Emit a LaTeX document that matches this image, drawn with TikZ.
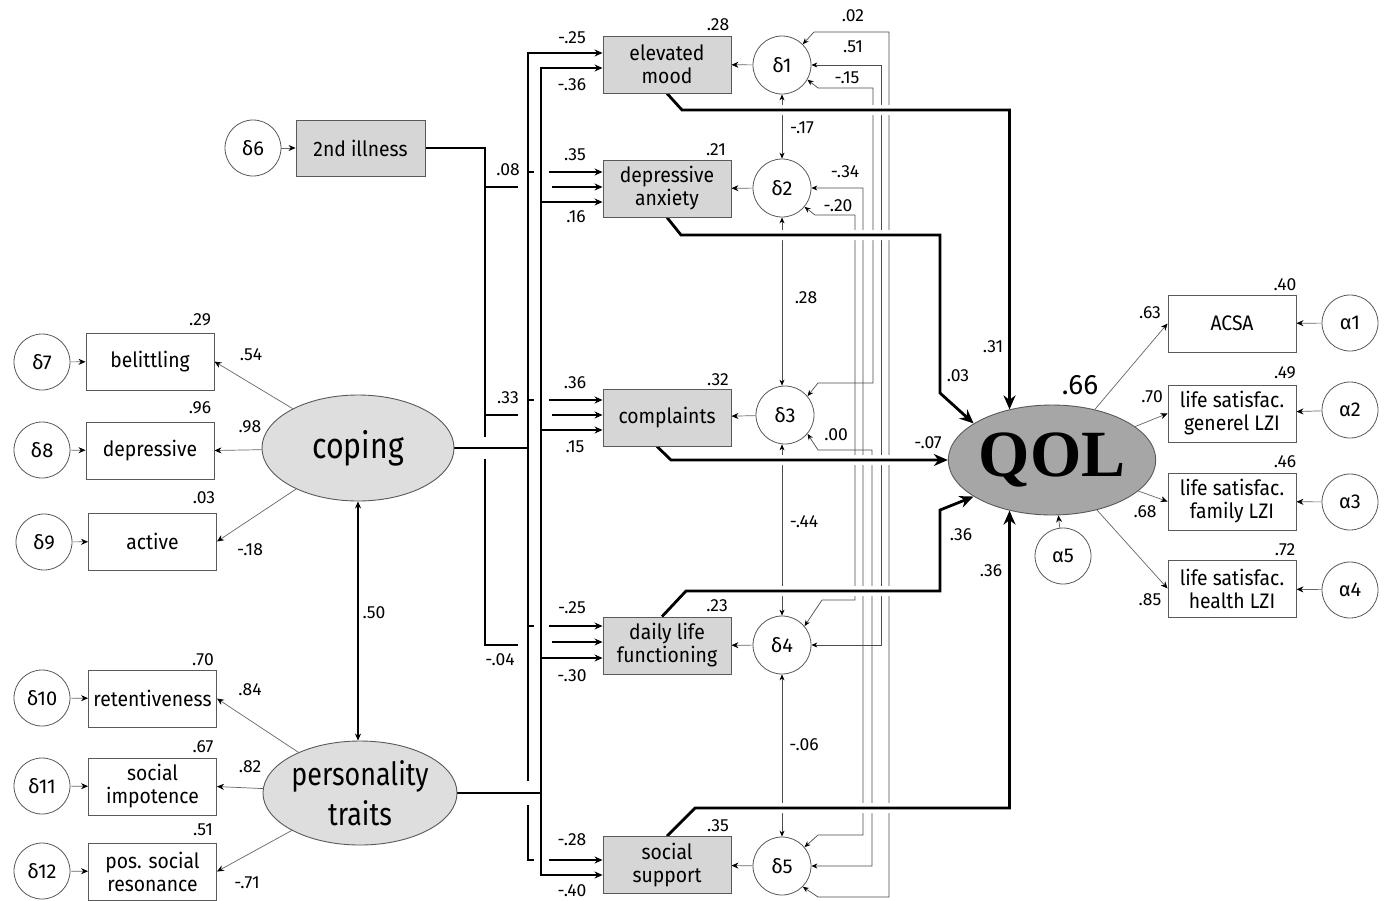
\documentclass[tikz,border=0pt]{standalone}
\usepackage{fontspec}
\setmainfont{Fira Sans}
\newfontfamily\qolfam{Liberation Serif}
\newfontfamily\condfam[FakeStretch=0.84]{Fira Sans}
\newfontfamily\bxfam[FakeStretch=0.92]{Fira Sans}
\usetikzlibrary{arrows.meta,shapes.geometric,calc}
\pgfdeclarelayer{bg}
\pgfsetlayers{bg,main}
\newcommand{\bxfont}{\bxfam\fontsize{21}{23}\selectfont}
\newcommand{\cifont}{\fontsize{20}{22}\selectfont}
\newcommand{\nmfont}{\fontsize{17.5}{18}\selectfont}
\begin{document}
\begin{tikzpicture}[x=1pt,y=-1pt,
  box/.style={draw=black!65, line width=0.9pt, minimum width=128pt, minimum height=57pt, inner sep=1pt, align=center, font=\bxfont},
  gbox/.style={box, fill=black!16},
  circ/.style={circle, draw=black!65, fill=white, line width=0.8pt, minimum size=56pt, inner sep=0pt, font=\cifont},
  lat/.style={ellipse, draw=black!65, fill=black!13, line width=0.9pt, inner sep=0pt, align=center},
  num/.style={font=\nmfont, inner sep=1pt},
  tarr/.style={draw=black!60, line width=0.7pt, -{Stealth[length=7pt,width=6pt,black]}},
  corr/.style={draw=black!70, line width=0.7pt, {Stealth[length=6pt,width=5pt,black]}-{Stealth[length=6pt,width=5pt,black]}},
  bus/.style={line width=2.4pt, black},
  barr/.style={line width=2.4pt, black, -{Stealth[length=8pt,width=7pt]}},
  qarr/.style={line width=2.8pt, black, -{Stealth[length=14pt,width=12pt]}, preaction={draw=white, line width=10pt, -}}
]
\begin{pgfonlayer}{bg}
\fill[white] (0,0) rectangle (1386,900);
\end{pgfonlayer}
\useasboundingbox (0,0) rectangle (1386,900);

% ---------- left: 2nd illness
\node[circ] (d6) at (253,148) {δ6};
\node[gbox, minimum width=129pt, minimum height=56pt] (ill) at (360.5,148) {2nd illness};

% ---------- coping block
\node[circ] (d7) at (42,362) {δ7};
\node[box] (bel) at (150,361.5) {belittling};
\node[circ] (d8) at (42,450) {δ8};
\node[box] (dep) at (150,450.5) {depressive};
\node[circ] (d9) at (44,542) {δ9};
\node[box] (act) at (152.5,541.5) {active};
\node[lat, minimum width=192pt, minimum height=106pt, font=\condfam\fontsize{36}{38}\selectfont] (coping) at (358,448) {coping};

% ---------- personality block
\node[lat, minimum width=194pt, minimum height=104pt, font=\condfam\fontsize{32}{40}\selectfont] (pt) at (360,793) {personality\\traits};
\node[circ] (d10) at (42,698) {δ10};
\node[box] (ret) at (152.5,698.5) {retentiveness};
\node[circ] (d11) at (42,786) {δ11};
\node[box] (si) at (152.5,786.5) {social\\impotence};
\node[circ] (d12) at (42,871) {δ12};
\node[box] (psr) at (152.5,871.5) {pos. social\\resonance};

% ---------- mediators
\node[gbox] (em) at (667,64.5) {elevated\\mood};
\node[gbox] (da) at (667,188.5) {depressive\\anxiety};
\node[gbox] (co) at (667,417.5) {complaints};
\node[gbox] (dl) at (667,645.5) {daily life\\functioning};
\node[gbox] (ss) at (667,865) {social\\support};

\node[circ, minimum size=58pt] (d1) at (782,65) {δ1};
\node[circ, minimum size=58pt] (d2) at (782,188) {δ2};
\node[circ, minimum size=58pt] (d3) at (785,415) {δ3};
\node[circ, minimum size=58pt] (d4) at (782,645) {δ4};
\node[circ, minimum size=58pt] (d5) at (782,866) {δ5};

% ---------- QOL block
\node[lat, fill=black!35, minimum width=194pt, minimum height=110pt, font=\qolfam\bfseries\fontsize{66}{66}\selectfont] (qol) at (1052,460) {QOL};
\node[circ] (a5) at (1063,556) {α5};
\node[box] (acsa) at (1232,323.5) {ACSA};
\node[box] (lsg) at (1232,413.5) {life satisfac.\\generel LZI};
\node[box] (lsf) at (1232,501.5) {life satisfac.\\family LZI};
\node[box] (lsh) at (1232,588.5) {life satisfac.\\health LZI};
\node[circ] (a1) at (1350,323) {α1};
\node[circ] (a2) at (1350,410) {α2};
\node[circ] (a3) at (1350,502) {α3};
\node[circ] (a4) at (1350,590) {α4};

% ---------- labels
\node[num] (n01) at (200,320) {.29};
\node[num] (n02) at (251,355) {.54};
\node[num] (n03) at (200,408) {.96};
\node[num] (n04) at (250,427) {.98};
\node[num] (n05) at (204,498) {.03};
\node[num] (n06) at (250,550) {-.18};
\node[num] (n07) at (203,660) {.70};
\node[num] (n08) at (250,690) {.84};
\node[num] (n09) at (203,747) {.67};
\node[num] (n10) at (250,767) {.82};
\node[num] (n11) at (203,830) {.51};
\node[num] (n12) at (247,883) {-.71};
\node[num] (n13) at (374,613) {.50};
\node[num] (n14) at (508,170) {.08};
\node[num] (n15) at (508,398) {.33};
\node[num] (n16) at (500,660) {-.04};
\node[num] (n17) at (572,38) {-.25};
\node[num] (n18) at (572,85) {-.36};
\node[num] (n19) at (718,25) {.28};
\node[num] (n20) at (575,155) {.35};
\node[num] (n21) at (576,217) {.16};
\node[num] (n22) at (716,150) {.21};
\node[num] (n23) at (575,383) {.36};
\node[num] (n24) at (575,447) {.15};
\node[num] (n25) at (718,380) {.32};
\node[num] (n26) at (572,608) {-.25};
\node[num] (n27) at (572,676) {-.30};
\node[num] (n28) at (717,606) {.23};
\node[num] (n29) at (572,840) {-.28};
\node[num] (n30) at (572,891) {-.40};
\node[num] (n31) at (718,826) {.35};
\node[num] (n32) at (802,128) {-.17};
\node[num] (n33) at (806,298) {.28};
\node[num] (n34) at (804,522) {-.44};
\node[num] (n35) at (804,745) {-.06};
\node[num] (n36) at (853,16) {.02};
\node[num] (n37) at (853,47) {.51};
\node[num] (n38) at (847,78) {-.15};
\node[num] (n39) at (845,172) {-.34};
\node[num] (n40) at (838,206) {-.20};
\node[num] (n41) at (836,435) {.00};
\node[num] (n42) at (993,347) {.31};
\node[num] (n43) at (958,376) {.03};
\node[num] (n44) at (928,443) {-.07};
\node[num] (n45) at (961,535) {.36};
\node[num] (n46) at (991,571) {.36};
\node[num, font=\fontsize{28}{29}\selectfont] (n47) at (1080,385) {.66};
\node[num] (n48) at (1285,285) {.40};
\node[num] (n49) at (1150,313) {.63};
\node[num] (n50) at (1285,373) {.49};
\node[num] (n51) at (1152,397) {.70};
\node[num] (n52) at (1285,462) {.46};
\node[num] (n53) at (1145,512) {.68};
\node[num] (n54) at (1285,550) {.72};
\node[num] (n55) at (1150,600) {.85};

\begin{pgfonlayer}{bg}
% measurement models
\draw[tarr] (d6) -- (ill);
\draw[tarr] (d7) -- (bel);
\draw[tarr] (d8) -- (dep);
\draw[tarr] (d9) -- (act);
\draw[tarr] (d10) -- (ret);
\draw[tarr] (d11) -- (si);
\draw[tarr] (d12) -- (psr);
\draw[tarr] (coping) -- (bel.east);
\draw[tarr] (coping) -- (dep.east);
\draw[tarr] (coping) -- (act.east);
\draw[tarr] (pt) -- (ret.east);
\draw[tarr] (pt) -- (si.east);
\draw[tarr] (pt) -- (psr.east);
\draw[line width=1.1pt, {Stealth[length=7pt,width=6pt]}-{Stealth[length=7pt,width=6pt]}] (coping.south) -- (coping.south |- pt.north);

% residuals to mediators
\draw[tarr] (d1) -- (em);
\draw[tarr] (d2) -- (da);
\draw[tarr] (d3) -- (co);
\draw[tarr] (d4) -- (dl);
\draw[tarr] (d5) -- (ss);

% residual correlations
\draw[corr] (d1.south) -- (d2.north);
\draw[corr] (d2.south) -- (d2.south |- d3.north);
\draw[corr] (d3.south -| d4.north) -- (d4.north);
\draw[corr] (d4.south) -- (d5.north);
\draw[corr] (d1.45) -- (814,32) -- (889,32) -- (889,897) -- (818,897) -- (d5.-45);
\draw[corr] (d1.east) -- (881,65) -- (881,645) -- (d4.east);
\draw[corr] (d1.-30) -- (818,88) -- (873,88) -- (873,383) -- (818,383) -- (d3.40);
\draw[corr] (d2.east) -- (863,188) -- (863,835) -- (818,835) -- (d5.40);
\draw[corr] (d2.-40) -- (815,215) -- (855,215) -- (855,600) -- (822,600) -- (d4.40);
\draw[corr] (d3.-40) -- (818,450) -- (872,450) -- (872,866) -- (d5.east);

% QOL indicators
\draw[tarr] (qol) -- (acsa.west);
\draw[tarr] (qol) -- (lsg.west);
\draw[tarr] (qol) -- (lsf.west);
\draw[tarr] (qol) -- (lsh.west);
\draw[tarr] (a1) -- (acsa);
\draw[tarr] (a2) -- (lsg);
\draw[tarr] (a3) -- (lsf);
\draw[tarr] (a4) -- (lsh);
\draw[tarr] (a5) -- (qol);

% 2nd illness bus
\draw[bus] (ill.east) -- (485,148) -- (485,437);
\draw[bus] (485,459) -- (485,645) -- (518,645);
\draw[bus] (485,187) -- (518,187);
\draw[bus] (485,415) -- (518,415);
\draw[barr] (552,187) -- (da.west |- 0,187);
\draw[barr] (552,415) -- (co.west |- 0,415);
\draw[barr] (552,642) -- (dl.west |- 0,642);

% coping bus
\draw[bus] (coping.east) -- (528,448);
\draw[barr] (528,781) -- (528,53) -- (em.west |- 0,53);
\draw[bus] (528,805) -- (528,860) -- (534,860);
\draw[barr] (549,860) -- (ss.west |- 0,860);
\draw[bus] (528,172) -- (534,172);
\draw[barr] (549,172) -- (da.west |- 0,172);
\draw[bus] (528,400) -- (534,400);
\draw[barr] (549,400) -- (co.west |- 0,400);
\draw[bus] (528,626) -- (534,626);
\draw[barr] (549,626) -- (dl.west |- 0,626);

% personality bus
\draw[bus] (pt.east) -- (541,793);
\draw[barr] (541,875) -- (541,68) -- (em.west |- 0,68);
\draw[barr] (541,860) -- (541,875) -- (ss.west |- 0,875);
\draw[barr] (541,202) -- (da.west |- 0,202);
\draw[barr] (541,430) -- (co.west |- 0,430);
\draw[barr] (541,658) -- (dl.west |- 0,658);

% paths to QOL
\draw[qarr] (em.south) -- (682,110) -- (qol.130 |- 0,110) -- (qol.130);
\draw[qarr] (da.south) -- (681,235) -- (940,235) -- (940,393) -- (qol.155);
\draw[qarr] ([xshift=-10pt]co.south) -- (671,460) -- (qol.west);
\draw[qarr] ([xshift=-5pt]dl.north) -- (686,591) -- (940,591) -- (940,510) -- (qol.205);
\draw[qarr] (ss.north) -- (695,808) -- (qol.230 |- 0,808) -- (qol.230);
\end{pgfonlayer}
\end{tikzpicture}
\end{document}
